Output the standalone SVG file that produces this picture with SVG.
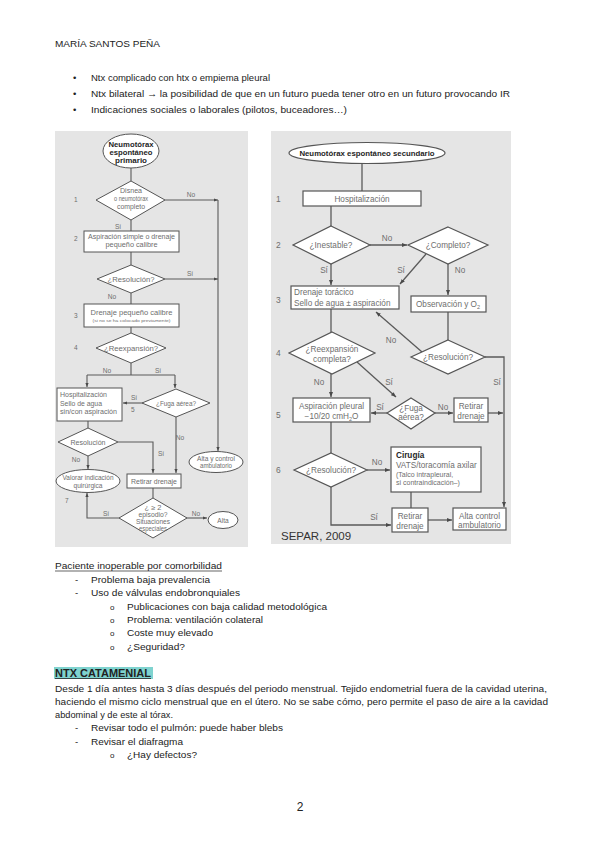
<svg xmlns="http://www.w3.org/2000/svg" width="599" height="848" viewBox="0 0 599 848">
<defs>
<style>
text{font-family:"Liberation Sans",Arial,sans-serif}
.pg{font-size:9.5px;fill:#222}
.fl{fill:#6e6e6e;text-anchor:middle}
.fs{font-size:6.6px}
.fr{font-size:8.2px}
.num{fill:#6e6e6e}
.bd{font-weight:bold;fill:#1e1e1e}
.ln{fill:none;stroke:#5a5a5a;stroke-width:1.1}
.ln2{fill:none;stroke:#5a5a5a;stroke-width:1.3}
.bx{fill:#fff;stroke:#555;stroke-width:1}
.bx2{fill:#fff;stroke:#555;stroke-width:1.2}
.panel{fill:#e5e5e5}
</style>
<marker id="a" viewBox="0 0 10 10" refX="10" refY="5" markerWidth="4" markerHeight="4" markerUnits="userSpaceOnUse" orient="auto"><path d="M0,1 L10,5 L0,9 z" fill="#4a4a4a"/></marker>
<marker id="b" viewBox="0 0 10 10" refX="10" refY="5" markerWidth="5" markerHeight="5" markerUnits="userSpaceOnUse" orient="auto"><path d="M0,1 L10,5 L0,9 z" fill="#4a4a4a"/></marker>
</defs>
<rect width="599" height="848" fill="#fff"/>

<g id="page-text" class="pg">
<text x="55" y="47" textLength="105" lengthAdjust="spacingAndGlyphs">MARÍA SANTOS PEÑA</text>
<text x="73" y="81">•</text>
<text x="91" y="81" textLength="179" lengthAdjust="spacingAndGlyphs">Ntx complicado con htx o empiema pleural</text>
<text x="73" y="97">•</text>
<text x="91" y="97" textLength="419" lengthAdjust="spacingAndGlyphs">Ntx bilateral → la posibilidad de que en un futuro pueda tener otro en un futuro provocando IR</text>
<text x="73" y="113">•</text>
<text x="91" y="113" textLength="256" lengthAdjust="spacingAndGlyphs">Indicaciones sociales o laborales (pilotos, buceadores…)</text>

<text x="55" y="569" textLength="167" lengthAdjust="spacingAndGlyphs">Paciente inoperable por comorbilidad</text>
<line x1="55" y1="571" x2="222" y2="571" stroke="#222" stroke-width="0.7"/>
<text x="75" y="583">-</text>
<text x="91" y="583" textLength="119" lengthAdjust="spacingAndGlyphs">Problema baja prevalencia</text>
<text x="75" y="596">-</text>
<text x="91" y="596" textLength="149" lengthAdjust="spacingAndGlyphs">Uso de válvulas endobronquiales</text>
<text x="110" y="610" font-size="8">o</text>
<text x="127" y="610" textLength="200" lengthAdjust="spacingAndGlyphs">Publicaciones con baja calidad metodológica</text>
<text x="110" y="623" font-size="8">o</text>
<text x="127" y="623" textLength="136" lengthAdjust="spacingAndGlyphs">Problema: ventilación colateral</text>
<text x="110" y="636" font-size="8">o</text>
<text x="127" y="636" textLength="86" lengthAdjust="spacingAndGlyphs">Coste muy elevado</text>
<text x="110" y="650" font-size="8">o</text>
<text x="127" y="650" textLength="58" lengthAdjust="spacingAndGlyphs">¿Seguridad?</text>

<rect x="54" y="667" width="99" height="12" fill="#7fd3cf"/>
<text x="55" y="677" font-weight="bold" font-size="10.3" textLength="96" lengthAdjust="spacingAndGlyphs">NTX CATAMENIAL</text>
<line x1="55" y1="678.5" x2="151" y2="678.5" stroke="#222" stroke-width="0.8"/>
<text x="55" y="692" textLength="492" lengthAdjust="spacingAndGlyphs">Desde 1 día antes hasta 3 días después del periodo menstrual. Tejido endometrial fuera de la cavidad uterina,</text>
<text x="55" y="705" textLength="493" lengthAdjust="spacingAndGlyphs">haciendo el mismo ciclo menstrual que en el útero. No se sabe cómo, pero permite el paso de aire a la cavidad</text>
<text x="55" y="718" textLength="118" lengthAdjust="spacingAndGlyphs">abdominal y de este al tórax.</text>
<text x="75" y="731">-</text>
<text x="91" y="731" textLength="192" lengthAdjust="spacingAndGlyphs">Revisar todo el pulmón: puede haber blebs</text>
<text x="75" y="745">-</text>
<text x="91" y="745" textLength="92" lengthAdjust="spacingAndGlyphs">Revisar el diafragma</text>
<text x="110" y="758" font-size="8">o</text>
<text x="127" y="758" textLength="70" lengthAdjust="spacingAndGlyphs">¿Hay defectos?</text>
<text x="300" y="811" font-size="12" text-anchor="middle">2</text>
</g>

<!-- LEFT FLOWCHART -->
<rect class="panel" x="55" y="131" width="193" height="416"/>
<g id="left-connectors">
<path class="ln" d="M131,168 V181"/>
<path class="ln" d="M165,200 H218" marker-end="url(#a)"/>
<path class="ln" d="M218,200 V451" marker-end="url(#a)"/>
<path class="ln" d="M131,220 V231"/>
<path class="ln" d="M131,252 V265"/>
<path class="ln" d="M165,279 H218" marker-end="url(#a)"/>
<path class="ln" d="M131,293 V304"/>
<path class="ln" d="M131,327 V333"/>
<path class="ln" d="M131,363 V375 M87,375 H175"/>
<path class="ln" d="M87,375 V387" marker-end="url(#a)"/>
<path class="ln" d="M175,375 V388" marker-end="url(#a)"/>
<path class="ln" d="M143,403 H123" marker-end="url(#a)"/>
<path class="ln" d="M176,417 V473" marker-end="url(#a)"/>
<path class="ln" d="M88,421 V428"/>
<path class="ln" d="M118,442 H153 V473" marker-end="url(#a)"/>
<path class="ln" d="M88,456 V469" marker-end="url(#a)"/>
<path class="ln" d="M153,488 V498"/>
<path class="ln" d="M186,518 H207" marker-end="url(#a)"/>
<path class="ln" d="M120,518 H87 V493" marker-end="url(#a)"/>
<g class="fl fs">
<text x="191" y="197">No</text>
<text x="118" y="229">Sí</text>
<text x="190" y="276">Sí</text>
<text x="112" y="299">No</text>
<text x="107" y="373">No</text>
<text x="158" y="373">Sí</text>
<text x="134" y="400">Sí</text>
<text x="180" y="440">No</text>
<text x="161" y="456">Sí</text>
<text x="76" y="462">No</text>
<text x="106" y="516">Sí</text>
<text x="196" y="516">No</text>
</g>
</g>
<g class="num" font-size="6.5">
<text x="74" y="202">1</text>
<text x="74" y="241">2</text>
<text x="74" y="318">3</text>
<text x="74" y="350">4</text>
<text x="131" y="412">5</text>
<text x="65" y="503">7</text>
</g>
<g id="L-start"><ellipse class="bx" cx="131" cy="151" rx="28" ry="17"/>
<text class="bd" x="131" y="147" font-size="7.4" text-anchor="middle" textLength="45" lengthAdjust="spacingAndGlyphs">Neumotórax</text>
<text class="bd" x="131" y="155" font-size="7.4" text-anchor="middle" textLength="43" lengthAdjust="spacingAndGlyphs">espontáneo</text>
<text class="bd" x="131" y="163" font-size="7.4" text-anchor="middle" textLength="32" lengthAdjust="spacingAndGlyphs">primario</text></g>
<g id="L-disnea"><polygon class="bx" points="131,181 165,200 131,220 96,200"/>
<text class="fl" font-size="6.4" x="131" y="193" textLength="22" lengthAdjust="spacingAndGlyphs">Disnea</text><text class="fl" font-size="6.4" x="131" y="201" textLength="34" lengthAdjust="spacingAndGlyphs">o neumotórax</text><text class="fl" font-size="6.4" x="131" y="209" textLength="28" lengthAdjust="spacingAndGlyphs">completo</text></g>
<g id="L-aspiracion"><rect class="bx" x="84" y="231" width="95" height="21"/>
<text class="fl fs" x="131.5" y="239" textLength="87" lengthAdjust="spacingAndGlyphs">Aspiración simple o drenaje</text><text class="fl fs" x="131.5" y="247" textLength="52" lengthAdjust="spacingAndGlyphs">pequeño calibre</text></g>
<g id="L-resolucion1"><polygon class="bx" points="131,265 165,279 131,293 97,279"/>
<text class="fl fs" x="131" y="281.5" textLength="47" lengthAdjust="spacingAndGlyphs">¿Resolución?</text></g>
<g id="L-drenaje"><rect class="bx" x="84" y="304" width="95" height="23"/>
<text class="fl" x="131.5" y="314.5" font-size="7.2" textLength="82" lengthAdjust="spacingAndGlyphs">Drenaje pequeño calibre</text>
<text class="fl" x="131.5" y="321.5" font-size="4.3" textLength="78" lengthAdjust="spacingAndGlyphs">(si no se ha colocado previamente)</text></g>
<g id="L-reexpansion"><polygon class="bx" points="131,333 166,348 131,363 96,348"/>
<text class="fl fs" x="131" y="350.5" textLength="54" lengthAdjust="spacingAndGlyphs">¿Reexpansión?</text></g>
<g id="L-hospitalizacion"><rect class="bx" x="57" y="388" width="65" height="33"/>
<text class="num fs" x="60" y="396.5" textLength="47" lengthAdjust="spacingAndGlyphs">Hospitalización</text><text class="num fs" x="60" y="405.5" textLength="42" lengthAdjust="spacingAndGlyphs">Sello de agua</text><text class="num fs" x="60" y="413.5" textLength="57" lengthAdjust="spacingAndGlyphs">sin/con aspiración</text></g>
<g id="L-fuga"><polygon class="bx" points="176,389 210,403 176,417 142,403"/>
<text class="fl fs" x="176" y="405.5" textLength="40" lengthAdjust="spacingAndGlyphs">¿Fuga aérea?</text></g>
<g id="L-resolucion2"><polygon class="bx" points="88,428 118,442 88,456 58,442"/>
<text class="fl fs" x="88" y="444.5" textLength="35" lengthAdjust="spacingAndGlyphs">Resolución</text></g>
<g id="L-valorar"><ellipse class="bx" cx="88" cy="481" rx="32" ry="11.5"/>
<text class="fl fs" x="88" y="480" textLength="51" lengthAdjust="spacingAndGlyphs">Valorar indicación</text><text class="fl fs" x="88" y="488" textLength="29" lengthAdjust="spacingAndGlyphs">quirúrgica</text></g>
<g id="L-retirar"><rect class="bx" x="127" y="474" width="54" height="14"/>
<text class="fl fs" x="154" y="483.5" textLength="46" lengthAdjust="spacingAndGlyphs">Retirar drenaje</text></g>
<g id="L-altacontrol"><ellipse class="bx" cx="216" cy="462" rx="27" ry="10.5"/>
<text class="fl fs" x="216" y="460.5" textLength="38" lengthAdjust="spacingAndGlyphs">Alta y control</text><text class="fl fs" x="216" y="468" textLength="32" lengthAdjust="spacingAndGlyphs">ambulatorio</text></g>
<g id="L-episodio"><polygon class="bx" points="153,498 187,518 153,538 119,518"/>
<text class="fl fs" x="153" y="509.5" textLength="17" lengthAdjust="spacingAndGlyphs">¿ ≥ 2</text><text class="fl fs" x="153" y="516.5" textLength="29" lengthAdjust="spacingAndGlyphs">episodio?</text><text class="fl fs" x="153" y="523.5" textLength="34" lengthAdjust="spacingAndGlyphs">Situaciones</text><text class="fl fs" x="153" y="530.5" textLength="28" lengthAdjust="spacingAndGlyphs">especiales</text></g>
<g id="L-alta"><ellipse class="bx" cx="223" cy="520" rx="15" ry="8.5"/>
<text class="fl fs" x="223" y="522.5">Alta</text></g>

<!-- RIGHT FLOWCHART -->
<rect class="panel" x="271" y="131" width="240" height="413"/>
<g id="right-connectors">
<path class="ln2" d="M362,163.5 V191"/>
<path class="ln2" d="M331,206 V226"/>
<path class="ln2" d="M370,245 H407" marker-end="url(#b)"/>
<path class="ln2" d="M331,264 V285" marker-end="url(#b)"/>
<path class="ln2" d="M426,254 L400,284" marker-end="url(#b)"/>
<path class="ln2" d="M448,264 V295" marker-end="url(#b)"/>
<path class="ln2" d="M448,312 V340"/>
<path class="ln2" d="M422,352 L376,312" marker-end="url(#b)"/>
<path class="ln2" d="M485,357 H504 V507" marker-end="url(#b)"/>
<path class="ln2" d="M331,309 V332"/>
<path class="ln2" d="M331,374 V397" marker-end="url(#b)"/>
<path class="ln2" d="M357,362 L396,397" marker-end="url(#b)"/>
<path class="ln2" d="M387,413 H371" marker-end="url(#b)"/>
<path class="ln2" d="M435,413 H453" marker-end="url(#b)"/>
<path class="ln2" d="M488,413 H503" marker-end="url(#b)"/>
<path class="ln2" d="M331,422 V453"/>
<path class="ln2" d="M367,470 H390" marker-end="url(#b)"/>
<path class="ln2" d="M331,487 V525 H391" marker-end="url(#b)"/>
<path class="ln2" d="M411,492 V508"/>
<path class="ln2" d="M428,520 H452" marker-end="url(#b)"/>
<g class="fl fr">
<text x="387" y="241">No</text>
<text x="324" y="273">Sí</text>
<text x="401" y="273">Sí</text>
<text x="460" y="273">No</text>
<text x="391" y="343">No</text>
<text x="497" y="385">Sí</text>
<text x="319" y="385">No</text>
<text x="389" y="385">Sí</text>
<text x="380" y="410">Sí</text>
<text x="443" y="410">No</text>
<text x="377" y="465">No</text>
<text x="374" y="520">Sí</text>
</g>
</g>
<g class="num" font-size="8.4">
<text x="276" y="202">1</text>
<text x="276" y="248">2</text>
<text x="276" y="303">3</text>
<text x="276" y="356">4</text>
<text x="276" y="418">5</text>
<text x="276" y="473">6</text>
</g>
<g id="R-start"><ellipse class="bx2" cx="367" cy="153" rx="78" ry="10.5"/>
<text class="bd" x="367" y="156" font-size="7.8" text-anchor="middle">Neumotórax espontáneo secundario</text></g>
<g id="R-hosp"><rect class="bx2" x="303" y="191" width="118" height="15"/>
<text class="fl fr" x="362" y="201.5">Hospitalización</text></g>
<g id="R-inestable"><polygon class="bx2" points="331,226 370,245 331,264 293,245"/>
<text class="fl fr" x="331" y="248">¿Inestable?</text></g>
<g id="R-completo"><polygon class="bx2" points="448,227 488,245 448,264 408,245"/>
<text class="fl fr" x="448" y="248">¿Completo?</text></g>
<g id="R-drenaje"><rect class="bx2" x="291" y="286" width="108" height="23"/>
<text class="num fr" x="294" y="295">Drenaje torácico</text><text class="num fr" x="294" y="306">Sello de agua ± aspiración</text></g>
<g id="R-observacion"><rect class="bx2" x="411" y="296" width="75" height="16"/>
<text class="fl fr" x="448" y="307">Observación y O<tspan font-size="5.5" dy="2">2</tspan></text></g>
<g id="R-resolucion1"><polygon class="bx2" points="448,340 485,357 448,374 411,357"/>
<text class="fl fr" x="448" y="360">¿Resolución?</text></g>
<g id="R-reexpansion"><polygon class="bx2" points="332,332 375,353 332,374 289,353"/>
<text class="fl fr" x="332" y="352">¿Reexpansión</text><text class="fl fr" x="332" y="362">completa?</text></g>
<g id="R-aspiracion"><rect class="bx2" x="293" y="398" width="77" height="24"/>
<text class="fl fr" x="331.5" y="409">Aspiración pleural</text><text class="fl fr" x="331.5" y="419">−10/20 cmH<tspan font-size="5.5" dy="2">2</tspan><tspan dy="-2">O</tspan></text></g>
<g id="R-fuga"><polygon class="bx2" points="411,398 435,413 411,429 387,413"/>
<text class="fl fr" x="411" y="411">¿Fuga</text><text class="fl fr" x="411" y="420">aérea?</text></g>
<g id="R-retirar1"><rect class="bx2" x="454" y="398" width="34" height="24"/>
<text class="fl fr" x="471" y="409">Retirar</text><text class="fl fr" x="471" y="419">drenaje</text></g>
<g id="R-resolucion2"><polygon class="bx2" points="331,453 367,470 331,487 294,470"/>
<text class="fl fr" x="331" y="473">¿Resolución?</text></g>
<g id="R-cirugia"><rect class="bx2" x="391" y="447" width="90" height="45"/>
<text class="bd" x="396" y="458" font-size="8.2">Cirugía</text>
<text class="num fr" x="396" y="468">VATS/toracomía axilar</text>
<text class="num" x="396" y="477" font-size="7">(Talco intrapleural,</text>
<text class="num" x="396" y="485" font-size="7">si contraindicación–)</text></g>
<g id="R-retirar2"><rect class="bx2" x="392" y="508" width="36" height="24"/>
<text class="fl fr" x="410" y="519">Retirar</text><text class="fl fr" x="410" y="529">drenaje</text></g>
<g id="R-alta"><rect class="bx2" x="453" y="508" width="53" height="22"/>
<text class="fl fr" x="479.5" y="518.5">Alta control</text><text class="fl fr" x="479.5" y="527.5">ambulatorio</text></g>
<text x="281" y="540" font-size="11.5" fill="#333">SEPAR, 2009</text>
</svg>
